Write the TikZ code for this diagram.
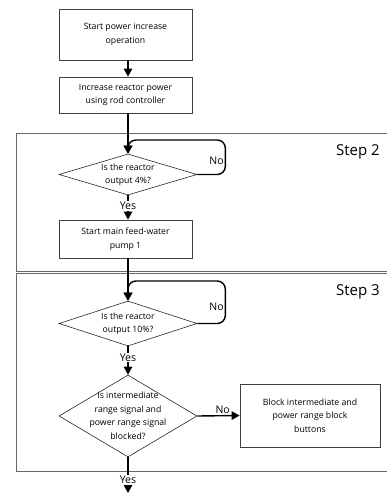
\documentclass[tikz,border=0pt]{standalone}
\usepackage{fontspec}
\setmainfont{Open Sans}
\usetikzlibrary{arrows.meta,shapes.geometric}

\begin{document}
\begin{tikzpicture}[x=1pt,y=-1pt]
\tikzstyle{every node}=[font=\fontsize{8.7}{13.5}\selectfont]
\tikzstyle{stepbox}=[draw=black!75,line width=0.8pt,rectangle,align=center,inner sep=0pt]
\tikzstyle{ask}=[draw=black!85,line width=0.6pt,diamond,inner sep=0pt,minimum width=138pt]
\tikzstyle{frame}=[draw=black!60,line width=0.8pt]
\tikzstyle{flow}=[draw,line width=1.4pt,-{Triangle[width=8.5pt,length=8pt]}]
\tikzstyle{answer}=[font=\fontsize{10.5}{12}\selectfont,fill=white,inner sep=1pt]
\useasboundingbox (0,0) rectangle (387,493);
 % frames of the steps
 \draw[frame] (395,133) -- (16,133) -- (16,271.5) -- (395,271.5);
 \draw[frame] (395,273.5) -- (16,273.5) -- (16,471) -- (395,471);
 \node (step2) at (358,152) {\fontsize{15}{18}\selectfont Step 2};
 \node (step3) at (358,292) {\fontsize{15}{18}\selectfont Step 3};
 % boxes and questions
 \node[stepbox,minimum width=133pt,minimum height=51pt] (start) at (125.5,34.5)
   {Start power increase\\operation};
 \node[stepbox,minimum width=133pt,minimum height=36pt] (rod) at (125.5,95)
   {Increase reactor power\\using rod controller};
 \node[ask,minimum height=41pt,
   label={[align=center]center:Is the reactor\\output 4\%?}] (q4) at (128,174.5) {};
 \node[stepbox,minimum width=133pt,minimum height=38pt] (pump) at (125.5,239)
   {Start main feed-water\\pump 1};
 \node[ask,minimum height=45pt,
   label={[align=center]center:Is the reactor\\output 10\%?}] (q10) at (128,323.5) {};
 \node[ask,minimum height=82pt,
   label={[align=center]center:Is intermediate\\range signal and\\power range signal\\blocked?}] (qblk) at (128,416) {};
 \node[stepbox,minimum width=140pt,minimum height=63pt] (block) at (310,415.5)
   {Block intermediate and\\power range block\\buttons};
 \coordinate (out) at (128,493);
 % connectors
 \path
 (start.south -| q4.north) edge[flow] (rod.north -| q4.north)
 (rod.south -| q4.north) edge[flow] (q4.north)
 (q4.south) edge[flow] node[answer,pos=0.45]{Yes} (pump.north -| q4.south)
 (pump.south -| q10.north) edge[flow] (q10.north)
 (q10.south) edge[flow] node[answer,pos=0.4]{Yes} (qblk.north)
 (qblk.east) edge[flow] node[answer,above,fill=none,pos=0.6]{No} (block.west)
 (qblk.south) edge[flow] node[answer,pos=0.63]{Yes} (out)
 ;
 \draw[flow,rounded corners=8pt]
 (q4.east) -- ++(28,0) -- ++(0,-34.5) node[answer,fill=none,left,pos=0.4]{No} -| (q4.north);
 \draw[flow,rounded corners=8pt]
 (q10.east) -- ++(28,0) -- ++(0,-42.5) node[answer,fill=none,left,pos=0.4]{No} -| (q10.north);
\end{tikzpicture}
\end{document}
